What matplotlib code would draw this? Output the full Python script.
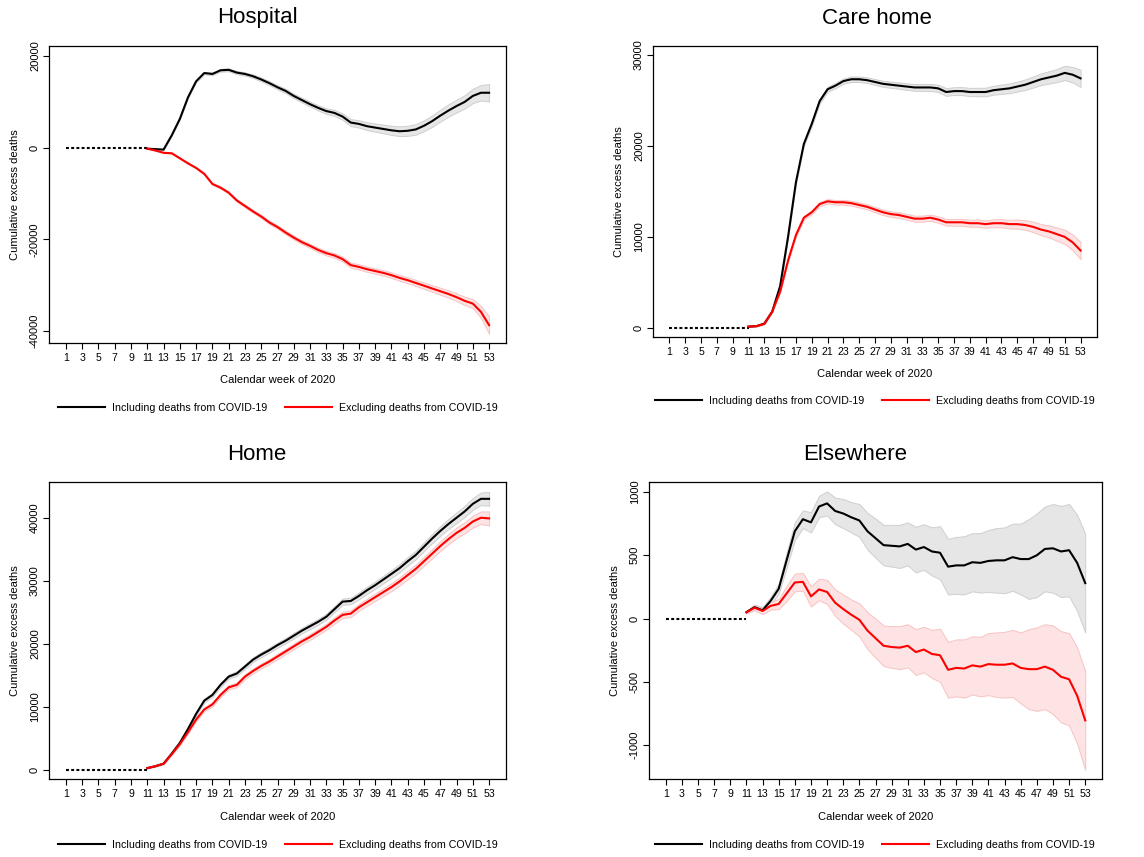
import numpy as np
import matplotlib
matplotlib.use("Agg")
import matplotlib.pyplot as plt
from matplotlib.lines import Line2D

plt.rcParams['font.family'] = ['Liberation Sans', 'DejaVu Sans']

# Semanas (1-10 sin datos: línea discontinua en cero)
weeks = np.arange(11, 54)
pre_weeks = np.arange(1, 12)

# Hospital
hosp_incl = [-200, -300, -400, 2700, 6300, 11000, 14500, 16300, 16100, 16900, 17000, 16400, 16100,
             15600, 14900, 14100, 13200, 12400, 11300, 10400, 9500, 8700, 8000, 7600, 6800, 5500,
             5200, 4700, 4400, 4100, 3800, 3600, 3700, 4000, 4800, 5800, 7000, 8100, 9100, 10000,
             11300, 12000, 12000]
hosp_incl_ci = [50, 80, 100, 130, 160, 200, 230, 260, 280, 300, 320, 340, 360, 380, 400, 420, 440,
                460, 480, 500, 530, 560, 600, 650, 700, 750, 800, 850, 900, 950, 1000, 1050, 1100,
                1150, 1200, 1250, 1300, 1350, 1400, 1450, 1550, 1700, 1900]
hosp_excl = [-200, -600, -1100, -1200, -2300, -3400, -4400, -5700, -7900, -8700, -9800, -11500,
             -12700, -13900, -15000, -16300, -17300, -18500, -19600, -20600, -21400, -22300,
             -23000, -23500, -24300, -25600, -26000, -26500, -26900, -27300, -27800, -28400,
             -28900, -29500, -30100, -30700, -31300, -31900, -32600, -33400, -34000, -35800, -38700]
hosp_excl_ci = [50, 60, 80, 100, 120, 150, 170, 190, 210, 230, 250, 270, 290, 310, 330, 350, 370,
                390, 410, 430, 450, 470, 490, 510, 530, 550, 560, 570, 580, 590, 600, 620, 640,
                660, 690, 720, 760, 800, 850, 900, 1000, 1300, 1900]

# Care home
care_incl = [150, 200, 480, 1800, 4600, 10000, 16000, 20200, 22400, 24900, 26200, 26600, 27100,
             27300, 27300, 27200, 27000, 26800, 26700, 26600, 26500, 26400, 26400, 26400, 26300,
             25900, 26000, 26000, 25900, 25900, 25900, 26100, 26200, 26300, 26500, 26700, 27000,
             27300, 27500, 27700, 28000, 27800, 27400]
care_incl_ci = [30, 40, 60, 100, 150, 200, 220, 240, 250, 260, 270, 280, 290, 300, 300, 310, 320,
                330, 340, 350, 360, 370, 380, 390, 400, 420, 430, 440, 450, 460, 470, 490, 510,
                530, 550, 580, 610, 640, 680, 720, 780, 850, 950]
care_excl = [150, 200, 450, 1800, 4000, 7400, 10200, 12100, 12700, 13600, 13900, 13800, 13800,
             13700, 13500, 13300, 13000, 12700, 12500, 12400, 12200, 12000, 12000, 12100, 11900,
             11600, 11600, 11600, 11500, 11500, 11400, 11500, 11500, 11400, 11400, 11300, 11100,
             10800, 10600, 10300, 10000, 9400, 8500]
care_excl_ci = [30, 40, 60, 100, 140, 180, 200, 210, 220, 230, 240, 250, 260, 270, 270, 280, 290,
                300, 300, 310, 320, 330, 330, 340, 350, 360, 370, 380, 390, 400, 410, 430, 450,
                470, 500, 530, 570, 610, 660, 720, 780, 860, 950]

# Home
home_incl = [300, 600, 1000, 2600, 4300, 6500, 8900, 11000, 11900, 13500, 14800, 15300, 16400,
             17500, 18300, 19000, 19800, 20500, 21300, 22100, 22800, 23500, 24300, 25500, 26700,
             26800, 27600, 28500, 29300, 30200, 31100, 32000, 33100, 34100, 35400, 36700, 37900,
             39000, 40000, 41000, 42200, 43000, 43000]
home_incl_ci = [50, 80, 100, 150, 200, 250, 280, 300, 320, 340, 350, 360, 370, 380, 390, 400, 410,
                420, 430, 440, 450, 460, 470, 480, 500, 520, 540, 560, 580, 600, 620, 640, 660,
                680, 700, 730, 760, 800, 840, 880, 930, 1000, 1100]
home_excl = [300, 600, 1000, 2500, 4100, 6000, 8000, 9600, 10400, 11900, 13100, 13500, 14800,
             15700, 16500, 17200, 18000, 18800, 19600, 20400, 21100, 21900, 22700, 23700, 24600,
             24800, 25800, 26600, 27400, 28200, 29000, 29900, 30900, 31900, 33100, 34300, 35500,
             36600, 37600, 38400, 39400, 40000, 39900]
home_excl_ci = [50, 80, 100, 150, 200, 250, 280, 300, 320, 340, 350, 360, 370, 380, 390, 400, 410,
                420, 430, 440, 450, 460, 470, 480, 500, 520, 540, 560, 580, 600, 620, 640, 660,
                680, 700, 730, 760, 800, 840, 880, 930, 1000, 1100]

# Elsewhere
else_incl = [50, 90, 65, 140, 235, 465, 690, 785, 760, 885, 910, 850, 830, 800, 775, 690, 635,
             580, 575, 570, 590, 545, 565, 530, 520, 410, 420, 420, 445, 440, 455, 460, 460, 485,
             470, 470, 500, 550, 555, 530, 540, 440, 280]
else_excl = [50, 85, 60, 100, 115, 200, 285, 290, 175, 230, 210, 125, 75, 30, -10, -95, -155,
             -215, -225, -230, -215, -265, -245, -280, -290, -405, -390, -395, -370, -380, -360,
             -365, -365, -355, -390, -400, -400, -380, -405, -460, -480, -610, -805]
else_ci = [10, 20, 25, 30, 40, 60, 70, 70, 80, 85, 95, 105, 115, 120, 130, 145, 155, 160, 165, 170,
           170, 180, 180, 190, 210, 220, 225, 230, 230, 235, 245, 255, 260, 265, 280, 315, 330,
           335, 350, 360, 365, 380, 390]

titles = ["Hospital", "Care home", "Home", "Elsewhere"]
yticks = [[-40000, -20000, 0, 20000], [0, 10000, 20000, 30000],
          [0, 10000, 20000, 30000, 40000], [-1000, -500, 0, 500, 1000]]
ylims = [(-42600, 22200), (-990, 30950), (-1430, 45670), (-1268, 1079)]

W, H = 1144, 857
fig = plt.figure(figsize=(W / 100, H / 100), dpi=100)

# posiciones en píxeles: (izq, arriba, der, abajo), centro título, y xlabel, centro leyenda
layout = [
    dict(box=(49, 46, 506, 343), tx=257, ty=18, xl=380, lg=(278, 408)),
    dict(box=(653, 46, 1097, 337), tx=877, ty=18, xl=374, lg=(875, 401)),
    dict(box=(49, 482, 506, 779), tx=257, ty=455, xl=817, lg=(278, 845)),
    dict(box=(649, 482, 1102, 779), tx=855, ty=455, xl=817, lg=(875, 845)),
]

series = [
    (hosp_incl, hosp_incl_ci, hosp_excl, hosp_excl_ci),
    (care_incl, care_incl_ci, care_excl, care_excl_ci),
    (home_incl, home_incl_ci, home_excl, home_excl_ci),
    (else_incl, else_ci, else_excl, else_ci),
]

for i, (incl, incl_ci, excl, excl_ci) in enumerate(series):
    l, t, r, b = layout[i]['box']
    ax = fig.add_axes([l / W, 1 - b / H, (r - l) / W, (b - t) / H])
    incl, incl_ci = np.array(incl), np.array(incl_ci)
    excl, excl_ci = np.array(excl), np.array(excl_ci)

    ax.fill_between(weeks, incl - incl_ci, incl + incl_ci, facecolor='#e6e6e6',
                    edgecolor='#cfcfcf', linewidth=0.7, zorder=1)
    ax.fill_between(weeks, excl - excl_ci, excl + excl_ci, facecolor='#fde3e3',
                    edgecolor='#f7c3c3', linewidth=0.7, zorder=1)
    ax.plot(pre_weeks, np.zeros(len(pre_weeks)), color='black', lw=1.5,
            linestyle=(0, (1.4, 1.1)), zorder=3)
    ax.plot(weeks, incl, color='black', lw=1.5, zorder=3)
    ax.plot(weeks, excl, color='red', lw=1.5, zorder=3)

    ax.set_xlim(1 - 52 * 0.04, 53 + 52 * 0.04)
    ax.set_ylim(*ylims[i])
    ax.set_xticks(range(1, 54, 2))
    ax.set_yticks(yticks[i])
    ax.set_yticklabels([str(v) for v in yticks[i]], rotation=90, va='center')
    ax.tick_params(direction='out', length=4, width=0.8, labelsize=8, pad=2.5)
    ax.tick_params(axis='x', labelsize=7.6, pad=3)
    for sp in ax.spines.values():
        sp.set_linewidth(0.9)

    ax.set_ylabel("Cumulative excess deaths", fontsize=8)
    ax.yaxis.label.set_va('center')
    ax.yaxis.set_label_coords(-34 / (r - l), 0.5)
    ax.set_xlabel("Calendar week of 2020", fontsize=8)
    ax.xaxis.label.set_va('center')
    ax.xaxis.set_label_coords(0.5, -(layout[i]['xl'] - b) / (b - t))

    fig.text(layout[i]['tx'] / W, 1 - layout[i]['ty'] / H, titles[i], fontsize=16,
             ha='center', va='center')

    handles = [Line2D([], [], color='black', lw=1.5), Line2D([], [], color='red', lw=1.5)]
    lx, ly = layout[i]['lg']
    ax.legend(handles, ["Including deaths from COVID-19", "Excluding deaths from COVID-19"],
              loc='center', bbox_to_anchor=(lx / W, 1 - ly / H), bbox_transform=fig.transFigure,
              ncol=2, frameon=False, fontsize=7.7, handlelength=4.4, handletextpad=0.65,
              columnspacing=1.7)

plt.savefig("out.png", dpi=100)
